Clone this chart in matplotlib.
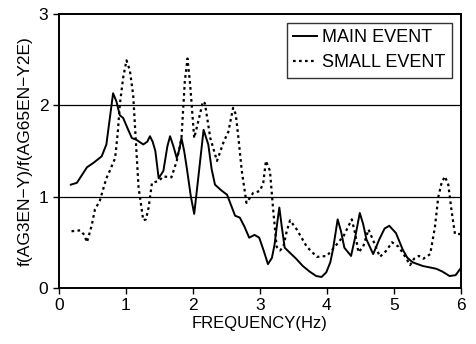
import numpy as np
import matplotlib
matplotlib.use("Agg")
import matplotlib.pyplot as plt

plt.rcParams['font.family'] = ['Liberation Sans', 'DejaVu Sans']

# main event (solid)
main_f = [0.18, 0.27, 0.42, 0.52, 0.64, 0.71, 0.76, 0.81, 0.86, 0.91, 0.96, 1.03,
          1.09, 1.16, 1.26, 1.32, 1.36, 1.40, 1.44, 1.49, 1.56, 1.62, 1.66, 1.71,
          1.76, 1.80, 1.83, 1.87, 1.91, 1.97, 2.02, 2.08, 2.16, 2.23, 2.28, 2.33,
          2.42, 2.51, 2.63, 2.70, 2.77, 2.84, 2.92, 2.99, 3.06, 3.12, 3.18, 3.22,
          3.26, 3.29, 3.33, 3.37, 3.44, 3.54, 3.64, 3.74, 3.84, 3.92, 3.99, 4.05,
          4.09, 4.16, 4.21, 4.26, 4.36, 4.42, 4.49, 4.54, 4.59, 4.69, 4.78, 4.86,
          4.93, 5.03, 5.13, 5.20, 5.28, 5.43, 5.63, 5.72, 5.83, 5.92, 6.00]
main_r = [1.13, 1.15, 1.32, 1.37, 1.44, 1.57, 1.85, 2.13, 2.04, 1.89, 1.86, 1.74,
          1.64, 1.62, 1.57, 1.60, 1.66, 1.60, 1.50, 1.20, 1.28, 1.55, 1.66, 1.55,
          1.42, 1.52, 1.64, 1.50, 1.31, 1.00, 0.81, 1.20, 1.73, 1.57, 1.30, 1.13,
          1.07, 1.02, 0.79, 0.77, 0.67, 0.55, 0.58, 0.55, 0.40, 0.26, 0.33, 0.48,
          0.72, 0.88, 0.65, 0.44, 0.39, 0.32, 0.24, 0.18, 0.13, 0.12, 0.17, 0.28,
          0.42, 0.75, 0.62, 0.44, 0.35, 0.55, 0.82, 0.70, 0.53, 0.37, 0.53, 0.65,
          0.68, 0.60, 0.42, 0.33, 0.28, 0.24, 0.21, 0.18, 0.13, 0.14, 0.22]

# small event (dotted)
small_f = [0.19, 0.32, 0.38, 0.42, 0.49, 0.54, 0.61, 0.71, 0.76, 0.84, 0.88, 0.91,
           0.96, 1.01, 1.06, 1.11, 1.15, 1.19, 1.26, 1.30, 1.34, 1.39, 1.49, 1.56,
           1.68, 1.76, 1.83, 1.88, 1.92, 1.96, 2.02, 2.08, 2.15, 2.18, 2.26, 2.36,
           2.46, 2.53, 2.60, 2.64, 2.68, 2.73, 2.80, 2.90, 3.00, 3.05, 3.09, 3.15,
           3.20, 3.25, 3.30, 3.35, 3.40, 3.45, 3.55, 3.70, 3.85, 4.00, 4.15, 4.25,
           4.37, 4.42, 4.47, 4.54, 4.62, 4.69, 4.79, 4.89, 4.97, 5.07, 5.17, 5.24,
           5.30, 5.37, 5.44, 5.54, 5.61, 5.66, 5.71, 5.76, 5.81, 5.86, 5.91, 5.99]
small_r = [0.62, 0.63, 0.58, 0.50, 0.68, 0.86, 0.95, 1.20, 1.28, 1.42, 1.70, 2.00,
           2.30, 2.49, 2.38, 2.11, 1.60, 1.10, 0.74, 0.75, 0.88, 1.15, 1.17, 1.22,
           1.21, 1.39, 1.64, 2.26, 2.51, 2.22, 1.64, 1.82, 2.04, 2.02, 1.64, 1.39,
           1.60, 1.71, 1.97, 1.90, 1.64, 1.28, 0.93, 1.04, 1.06, 1.15, 1.39, 1.28,
           0.84, 0.45, 0.41, 0.45, 0.62, 0.74, 0.64, 0.45, 0.34, 0.35, 0.48, 0.57,
           0.75, 0.60, 0.39, 0.45, 0.64, 0.52, 0.34, 0.41, 0.50, 0.45, 0.34, 0.25,
           0.32, 0.35, 0.32, 0.37, 0.66, 0.99, 1.15, 1.22, 1.13, 0.84, 0.59, 0.59]

fig = plt.figure(figsize=(4.76, 3.44), dpi=100)
ax = fig.add_axes([0.1235, 0.163, 0.845, 0.797])

ax.plot(main_f, main_r, color='black', lw=1.4, label='MAIN EVENT')
ax.plot(small_f, small_r, color='black', lw=1.6, ls=(0, (1.2, 1.5)), label='SMALL EVENT')

ax.set_xlim(0, 6)
ax.set_ylim(0, 3)
ax.set_xticks(range(0, 7))
ax.set_yticks([0, 1, 2, 3])
for yv in [1, 2]:
    ax.axhline(yv, color='black', lw=0.9)
for s in ax.spines.values():
    s.set_linewidth(1.4)
ax.tick_params(direction='out', length=4, width=1, labelsize=12.5)

ax.set_xlabel('FREQUENCY(Hz)', fontsize=12, labelpad=2)
ax.set_ylabel('f(AG3EN\u2212Y)/f(AG65EN\u2212Y2E)', fontsize=12.5, labelpad=4)

leg = ax.legend(loc='upper right', fontsize=13, frameon=True, fancybox=False,
                edgecolor='black', handlelength=1.3, handletextpad=0.3,
                borderpad=0.35, labelspacing=0.45, borderaxespad=0.5)
leg.get_frame().set_linewidth(1.0)

fig.savefig('out.png', dpi=100)
